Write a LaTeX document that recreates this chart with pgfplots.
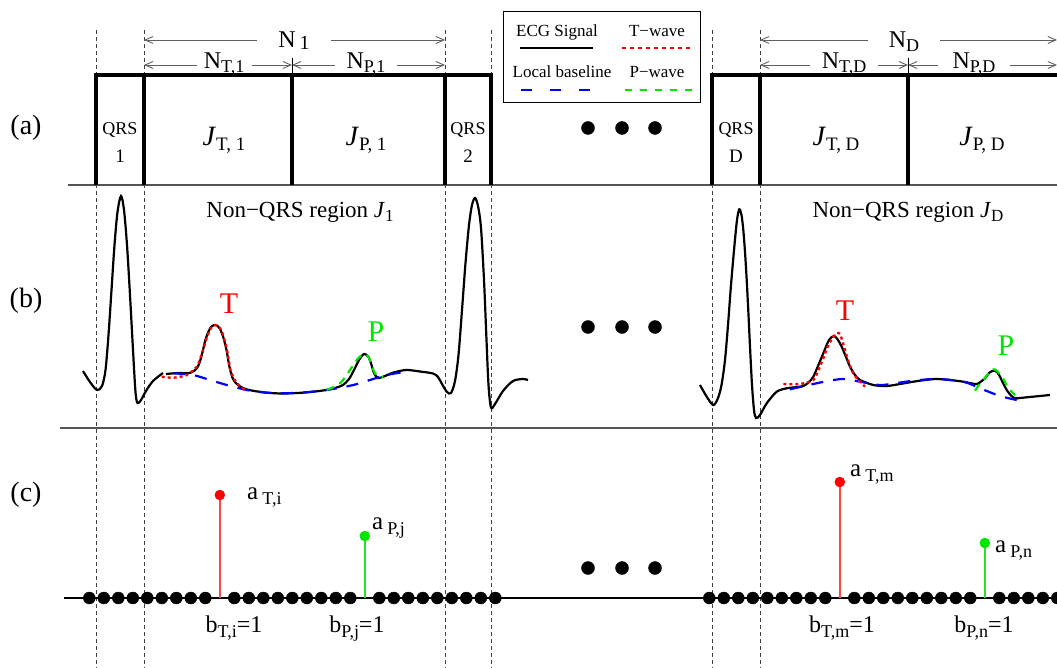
\documentclass[border=0pt]{standalone}
\usepackage{pgfplots}
\pgfplotsset{compat=1.18}
\usetikzlibrary{arrows.meta}
\usepackage{fontspec}
\setmainfont{Liberation Serif}
\newcommand{\sz}[1]{\fontsize{#1}{#1}\selectfont}
\definecolor{sepgray}{RGB}{85,85,85}
\definecolor{arrgray}{RGB}{95,95,95}
\definecolor{ecgred}{RGB}{255,0,0}
\definecolor{ecggreen}{RGB}{0,230,0}
\definecolor{ecgblue}{RGB}{0,0,255}
\definecolor{stemred}{RGB}{255,70,70}
\definecolor{stemgreen}{RGB}{40,225,40}
\begin{document}
\begin{tikzpicture}
\begin{axis}[width=1057pt,height=668pt,scale only axis,
  xmin=0,xmax=1057,ymin=0,ymax=668,y dir=reverse,hide axis,clip=false]
% ---------- dashed verticals
\addplot[black!75,line width=0.8pt,dash pattern=on 4pt off 3pt] coordinates {(96,30)(96,668)};
\addplot[black!75,line width=0.8pt,dash pattern=on 4pt off 3pt] coordinates {(144,30)(144,668)};
\addplot[black!75,line width=0.8pt,dash pattern=on 4pt off 3pt] coordinates {(445,30)(445,668)};
\addplot[black!75,line width=0.8pt,dash pattern=on 4pt off 3pt] coordinates {(491,30)(491,668)};
\addplot[black!75,line width=0.8pt,dash pattern=on 4pt off 3pt] coordinates {(712,30)(712,668)};
\addplot[black!75,line width=0.8pt,dash pattern=on 4pt off 3pt] coordinates {(760,30)(760,668)};
% ---------- separators
\addplot[sepgray,line width=1.5pt] coordinates {(68,185)(1057,185)};
\addplot[sepgray,line width=1.5pt] coordinates {(60,428)(1057,428)};
% ---------- box (a)
\addplot[black,line width=3.5pt,line join=miter] coordinates {(96,185)(96,75)(491,75)(491,185)};
\addplot[black,line width=3.5pt] coordinates {(144,75)(144,185)};
\addplot[black,line width=3.5pt] coordinates {(292,75)(292,185)};
\addplot[black,line width=3.5pt] coordinates {(445,75)(445,185)};
\addplot[black,line width=3.5pt,line join=miter] coordinates {(712,185)(712,75)(1057,75)};
\addplot[black,line width=3.5pt] coordinates {(760,75)(760,185)};
\addplot[black,line width=3.5pt] coordinates {(908,75)(908,185)};
\addplot[black,line width=1pt] coordinates {(292,58)(292,75)};
\addplot[black,line width=1pt] coordinates {(908,58)(908,75)};
% ---------- dimension arrows
\pgfplotsset{dimarr/.style={arrgray,line width=0.9pt,-{Straight Barb[length=8pt,width=7pt]}}}
\addplot[dimarr] coordinates {(257,40)(144,40)};
\addplot[dimarr] coordinates {(331,40)(445,40)};
\addplot[dimarr] coordinates {(197,65)(144,65)};
\addplot[dimarr] coordinates {(252,65)(292,65)};
\addplot[dimarr] coordinates {(335,65)(292,65)};
\addplot[dimarr] coordinates {(397,65)(445,65)};
\addplot[dimarr] coordinates {(868,40)(760,40)};
\addplot[dimarr] coordinates {(940,40)(1057,40)};
\addplot[dimarr] coordinates {(810,65)(760,65)};
\addplot[dimarr] coordinates {(878,65)(908,65)};
\addplot[dimarr] coordinates {(938,65)(908,65)};
\addplot[dimarr] coordinates {(1010,65)(1057,65)};
\node[anchor=base] at (axis cs:294,48) {\sz{24}N\,\raisebox{-2pt}{\sz{20}1}};
\node[anchor=base] at (axis cs:904,48) {\sz{24}N\raisebox{-4pt}{\sz{18}D}};
\node[anchor=base] at (axis cs:224,69) {\sz{24}N\raisebox{-3.5pt}{\sz{18}T,1}};
\node[anchor=base] at (axis cs:366,69) {\sz{24}N\raisebox{-3.5pt}{\sz{18}P,1}};
\node[anchor=base] at (axis cs:844,69) {\sz{24}N\raisebox{-3.5pt}{\sz{18}T,D}};
\node[anchor=base] at (axis cs:974,69) {\sz{24}N\raisebox{-3.5pt}{\sz{18}P,D}};
% ---------- box labels
\node[anchor=base] at (axis cs:120,135) {\sz{18}QRS};
\node[anchor=base] at (axis cs:120,163) {\sz{19}1};
\node[anchor=base] at (axis cs:468,135) {\sz{18}QRS};
\node[anchor=base] at (axis cs:468,163) {\sz{19}2};
\node[anchor=base] at (axis cs:736,135) {\sz{18}QRS};
\node[anchor=base] at (axis cs:736,163) {\sz{19}D};
\node[anchor=base] at (axis cs:224,146) {\sz{28}\textit{J}\raisebox{-5pt}{\sz{19}T, 1}};
\node[anchor=base] at (axis cs:366,146) {\sz{28}\textit{J}\raisebox{-5pt}{\sz{19}P, 1}};
\node[anchor=base] at (axis cs:836,146) {\sz{28}\textit{J}\raisebox{-5pt}{\sz{19}T, D}};
\node[anchor=base] at (axis cs:982,146) {\sz{28}\textit{J}\raisebox{-5pt}{\sz{19}P, D}};
% ---------- row labels
\node[anchor=base] at (axis cs:26,135) {\sz{28}(a)};
\node[anchor=base] at (axis cs:26,308) {\sz{28}(b)};
\node[anchor=base] at (axis cs:26,501) {\sz{28}(c)};
% ---------- legend
\addplot[black,line width=1pt,line join=miter] coordinates {(503,12)(700,12)(700,103)(503,103)(503,12)};
\node[anchor=base] at (axis cs:557,37) {\sz{17}ECG Signal};
\node[anchor=base] at (axis cs:657,37) {\sz{17}T−wave};
\node[anchor=base] at (axis cs:562,78) {\sz{17}Local baseline};
\node[anchor=base] at (axis cs:657,78) {\sz{17}P−wave};
\addplot[black,line width=1.2pt] coordinates {(520,48)(593,48)};
\addplot[ecgred,line width=2.5pt,dash pattern=on 4pt off 4pt] coordinates {(622,48)(694,48)};
\addplot[ecgblue,line width=2.5pt,dash pattern=on 11pt off 18pt] coordinates {(521,90)(594,90)};
\addplot[ecggreen,line width=2.5pt,dash pattern=on 7pt off 8pt] coordinates {(625,90)(694,90)};
% ---------- ellipsis dots
\addplot[only marks,mark=*,mark size=6.5pt,black] coordinates {(588,128)(622,128)(655,128)(588,327)(622,327)(655,327)(588,568)(622,568)(655,568)};
% ---------- ECG (b)
\node[anchor=base] at (axis cs:300,218) {\sz{23}Non−QRS region \textit{J}\raisebox{-4pt}{\sz{17}1}};
\node[anchor=base] at (axis cs:908,218) {\sz{23}Non−QRS region \textit{J}\raisebox{-4pt}{\sz{17}D}};
\addplot[black,line width=2.2pt,smooth] coordinates {(83,371) (90,382) (97,390) (102,386) (105.5,370) (108.5,335) (111.5,290) (114.5,245) (117.5,212) (121,196) (124,210) (127,245) (130,295) (133,350) (135.5,392) (137.5,403) (141,400) (146,391) (153,381) (163,373)};
\addplot[black,line width=2.2pt,smooth] coordinates {(166,374) (178,373) (190,373) (197,368) (201,358) (206,338) (211,327) (216,325) (220,329) (223.5,338) (226.5,350) (229.5,367) (233,379) (238,385) (247,389.5) (265,392.5) (283,393.5) (305,392.5) (323,390.5) (335,388) (343,385) (349,379) (354,370) (359,360) (364,354) (368.5,357) (371.5,365) (374,373) (378,378) (385,376) (393,372.7) (406,370) (420,371.5) (433,373.5) (438,377) (442,384) (447,392) (451,393) (455,381) (458.5,355) (462,310) (465.5,263) (469,225) (472,205) (475,198) (478,206) (481,228) (484,280) (486.5,340) (488.5,385) (491,407.5) (495,404) (503,391) (513,381) (523,379) (528,380)};
\addplot[black,line width=2.2pt,smooth] coordinates {(700,385) (706.7,396.7) (713.3,405) (718,398) (721.5,385) (725,360) (728,325) (731,285) (734.3,247) (737,220) (739.3,209.3) (741.5,215) (743.3,230) (745,252) (746.7,280) (748.5,315) (750,346.7) (752,385) (754,410) (756,418) (760,415) (766.7,403.3) (776.7,391.7) (786.7,388.3) (795,387.3) (803.3,386) (809,382) (813.3,376.7) (818,366) (823.3,353.3) (829,340) (834,336) (838,340) (841.7,346.7) (846,357) (850,366.7) (855,375) (860,380) (873.3,385) (886.7,386) (900,384) (913.3,381.7) (925,380) (936.7,379) (950,380) (963.3,381.7) (972,383.5) (977,384) (981,381.5) (985,378.3) (989,373) (993.3,370.7) (997,372) (1000,376.7) (1003,383) (1006.7,390) (1011,395.5) (1015,398.3) (1020,398) (1026.7,397.3) (1040,396) (1050,395)};
\addplot[ecgblue,line width=2.2pt,smooth,dash pattern=on 12pt off 10pt] coordinates {(173.3,373.3) (193,375) (210,380) (226.7,385) (246.7,390) (265,392.5) (283.3,393.3) (305,392.3) (326.7,390) (353.3,385) (370,380) (386.7,375) (410,371)};
\addplot[ecgblue,line width=2.2pt,smooth,dash pattern=on 12pt off 10pt] coordinates {(790,389.3) (813.3,384) (828,381) (843.3,379) (860,381.7) (880,385) (897,383) (913.3,380.7) (936.7,379) (963.3,381.7) (980,388.3) (1000,396) (1016.7,400)};
\addplot[ecgred,line width=2.4pt,smooth,dash pattern=on 3pt off 3pt] coordinates {(161.7,376.7) (173.3,377.7) (186.7,375) (196.7,366.7) (201.5,355) (206.7,338) (211,328) (215,325) (219,327) (222,332) (224.5,340) (227,350) (229,362) (231,372) (236.7,383) (245,390)};
\addplot[ecgred,line width=2.4pt,smooth,dash pattern=on 3pt off 3pt] coordinates {(783.3,384) (800,384) (813.3,380) (818,371) (823.3,358.3) (828,346) (833.3,336.7) (837,333) (840,334) (842,340) (845,350) (848,360) (851.7,370) (855,376) (860,381.7) (865,386.7)};
\addplot[ecggreen,line width=2.2pt,smooth,dash pattern=on 8pt off 6pt] coordinates {(326.7,390) (340,383.3) (350,370) (356,361) (360,356.5) (365,354) (369,358) (372,366) (375,373.3) (379,376.5) (383.3,377.3)};
\addplot[ecggreen,line width=2.2pt,smooth,dash pattern=on 8pt off 6pt] coordinates {(975,390.7) (979,385) (983.3,380) (988,374) (993.3,369.3) (997,371) (1001.7,376.7) (1005,382) (1008.3,388.3) (1015,395)};
\node[anchor=base,text=ecgred] at (axis cs:229,313) {\sz{30}T};
\node[anchor=base,text=ecggreen] at (axis cs:376,341) {\sz{30}P};
\node[anchor=base,text=ecgred] at (axis cs:845,320) {\sz{30}T};
\node[anchor=base,text=ecggreen] at (axis cs:1006,355) {\sz{30}P};
% ---------- (c) sparse coefficients
\addplot[black,line width=1.2pt] coordinates {(64,598)(1057,598)};
\addplot[only marks,mark=*,mark size=6pt,black] coordinates {
(89.3,598)(103.8,598)(118.3,598)(132.8,598)(147.3,598)(161.8,598)(176.3,598)(190.8,598)(205.3,598)
(234.3,598)(248.8,598)(263.3,598)(277.8,598)(292.3,598)(306.8,598)(321.3,598)(335.8,598)(350.3,598)
(379.3,598)(393.8,598)(408.3,598)(422.8,598)(437.3,598)(451.8,598)(466.3,598)(480.8,598)(495.3,598)
(709.3,598)(723.8,598)(738.3,598)(752.8,598)(767.3,598)(781.8,598)(796.3,598)(810.8,598)(825.3,598)
(854.3,598)(868.8,598)(883.3,598)(897.8,598)(912.3,598)(926.8,598)(941.3,598)(955.8,598)(970.3,598)
(999.3,598)(1013.8,598)(1028.3,598)(1042.8,598)(1057.3,598)};
\addplot[stemred,line width=1.6pt] coordinates {(219.8,598)(219.8,495)};
\addplot[stemgreen,line width=1.6pt] coordinates {(364.8,598)(364.8,536)};
\addplot[stemred,line width=1.6pt] coordinates {(839.8,598)(839.8,482)};
\addplot[stemgreen,line width=1.6pt] coordinates {(984.8,598)(984.8,543)};
\addplot[only marks,mark=*,mark size=5pt,ecgred] coordinates {(219.8,495)(839.8,482)};
\addplot[only marks,mark=*,mark size=5pt,ecggreen] coordinates {(364.8,536)(984.8,543)};
\node[anchor=base west,inner sep=0pt] at (axis cs:247,499) {\sz{25}a\,\raisebox{-5pt}{\sz{18}T,i}};
\node[anchor=base west,inner sep=0pt] at (axis cs:372,529) {\sz{25}a\,\raisebox{-5pt}{\sz{18}P,j}};
\node[anchor=base west,inner sep=0pt] at (axis cs:850,476) {\sz{25}a\,\raisebox{-5pt}{\sz{18}T,m}};
\node[anchor=base west,inner sep=0pt] at (axis cs:995,552) {\sz{25}a\,\raisebox{-5pt}{\sz{18}P,n}};
\node[anchor=base] at (axis cs:234,632) {\sz{24}b\raisebox{-5pt}{\sz{18}T,i}=1};
\node[anchor=base] at (axis cs:357,632) {\sz{24}b\raisebox{-5pt}{\sz{18}P,j}=1};
\node[anchor=base] at (axis cs:842,632) {\sz{24}b\raisebox{-5pt}{\sz{18}T,m}=1};
\node[anchor=base] at (axis cs:984,632) {\sz{24}b\raisebox{-5pt}{\sz{18}P,n}=1};
\end{axis}
\pgfresetboundingbox
\path (current axis.south west) rectangle (current axis.north east);
\end{tikzpicture}
\end{document}
